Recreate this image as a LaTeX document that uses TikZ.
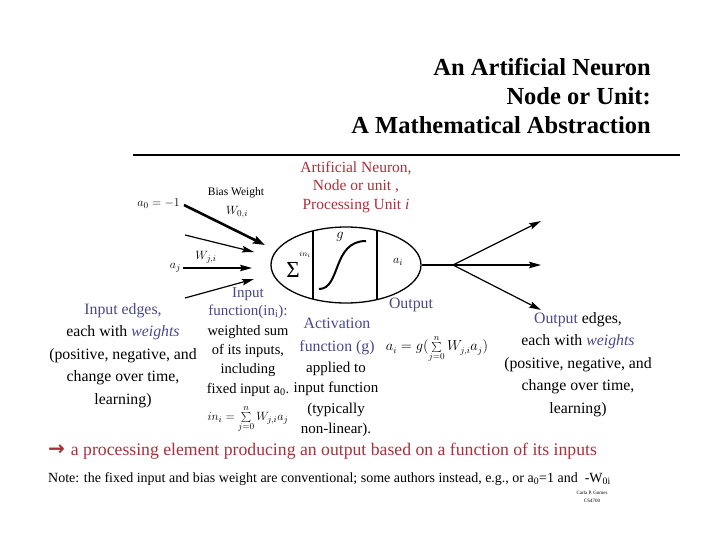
\documentclass[tikz,border=0pt]{standalone}
\usepackage{fontspec}
\setmainfont{Liberation Serif}
\newfontfamily\dejavu{DejaVu Sans}
\usetikzlibrary{shapes.geometric,arrows.meta}
\definecolor{myred}{RGB}{168,48,58}
\definecolor{myblue}{RGB}{72,72,138}
\tikzset{
  txt/.style={inner sep=0pt, align=center, font=\fontsize{15.8}{22.5}\selectfont},
  ttl/.style={inner sep=0pt, anchor=east, font=\fontsize{24.5}{29}\selectfont\bfseries},
  thinarr/.style={line width=1.2pt, -{Stealth[length=12pt,width=6.5pt,inset=2pt]}},
  thickarr/.style={line width=2.6pt, -{Stealth[length=12pt,width=8pt,inset=2pt]}},
}
\begin{document}
\begin{tikzpicture}[x=1pt,y=-1pt]
\useasboundingbox (0,0) rectangle (720,540);
% title
\node[ttl] (t1) at (651,67) {An Artificial Neuron};
\node[ttl] (t2) at (651,96) {Node or Unit:};
\node[ttl] (t3) at (651,125) {A Mathematical Abstraction};
\draw[line width=2.6pt] (133,155) -- (680,155);
% red caption
\node[txt, text=myred, font=\fontsize{15.5}{18.5}\selectfont] (cap) at (356,187) {Artificial Neuron,\\Node or unit ,\\Processing Unit \textit{i}};
% neuron
\node[ellipse, draw, line width=1.3pt, minimum width=150pt, minimum height=76pt, inner sep=0pt] (neuron) at (346,265) {};
\draw[line width=1.3pt] (313,231) -- (313,299);
\draw[line width=1.3pt] (377,230.5) -- (377,299.5);
\draw[line width=2pt] (319,289) .. controls (341,289) and (332,241) .. (366,241);
\node[inner sep=0pt, font=\fontsize{23}{23}\selectfont] (sig) at (293,270) {Σ};
\node[inner sep=0pt, font=\fontsize{8.5}{8.5}\selectfont] (ini) at (305,254) {$in_i$};
\node[inner sep=0pt, font=\fontsize{15}{15}\selectfont] (g) at (340,237) {$g$};
\node[inner sep=0pt, font=\fontsize{13}{13}\selectfont] (ai) at (398,262) {$a_i$};
% outputs
\coordinate (br) at (453,265);
\coordinate (o1) at (541,221);
\coordinate (o2) at (541,265);
\coordinate (o3) at (541,310);
\draw[line width=2.6pt] (neuron.east) -- (br);
\draw[thinarr] (br) -- (o1);
\draw[thinarr] (br) -- (o2);
\draw[thinarr] (br) -- (o3);
% inputs
\coordinate (s0) at (184,205); \coordinate (e0) at (265,245);
\coordinate (s1) at (185,235); \coordinate (e1) at (254,252);
\coordinate (s2) at (183,268); \coordinate (e2) at (252,268);
\coordinate (s3) at (185,298); \coordinate (e3) at (254,279);
\draw[thickarr] (s0) -- (e0);
\draw[thinarr] (s1) -- (e1);
\draw[thinarr] (s2) -- (e2);
\draw[thinarr] (s3) -- (e3);
\node[inner sep=0pt, anchor=east, font=\fontsize{13}{13}\selectfont] (a0) at (180,204) {$a_0 = -1$};
\node[inner sep=0pt, font=\fontsize{11.5}{11.5}\selectfont] (bw) at (236,193) {Bias Weight};
\node[inner sep=0pt, font=\fontsize{13}{13}\selectfont] (w0) at (237,212) {$W_{0,i}$};
\node[inner sep=0pt, font=\fontsize{13}{13}\selectfont] (wj) at (206,257) {$W_{j,i}$};
\node[inner sep=0pt, anchor=east, font=\fontsize{13}{13}\selectfont] (aj) at (181,268) {$a_j$};
% left text
\node[txt, anchor=north] (inedges) at (123,303) {\textcolor{myblue}{Input edges,}\\each with \textcolor{myblue}{\textit{weights}}\\(positive, negative, and\\change over time,\\learning)};
% input function
\node[txt, anchor=north, text=myblue, font=\fontsize{15}{18}\selectfont] (infn) at (248,287) {Input\\function(in\textsubscript{i}):};
\node[txt, anchor=north, font=\fontsize{14.5}{19}\selectfont] (ws) at (248,325) {weighted sum\\of its inputs,\\including\\[1pt]fixed input a\textsubscript{0}.};
\node[inner sep=0pt, font=\fontsize{12.5}{12.5}\selectfont] (inf) at (248,419) {$in_i = \sum\limits_{j=0}^{n} W_{j,i}a_j$};
% activation
\node[txt, anchor=north, text=myblue] (act) at (337,318) {Activation\\function (g)};
\node[txt, anchor=north, font=\fontsize{15}{20.3}\selectfont] (app) at (336,362) {applied to\\input function\\(typically\\non-linear).};
\node[txt, text=myblue] (outl) at (411,305) {Output};
\node[inner sep=0pt, font=\fontsize{13.5}{13.5}\selectfont] (outf) at (437,349) {$a_i = g(\sum\limits_{j=0}^{n} W_{j,i}a_j)$};
% output edges
\node[txt, anchor=north] (outedges) at (578,312) {\textcolor{myblue}{Output} edges,\\each with \textcolor{myblue}{\textit{weights}}\\(positive, negative, and\\change over time,\\learning)};
% bottom lines
\node[inner sep=0pt, anchor=west, text=myred, font=\fontsize{17.7}{17.7}\selectfont] (proc) at (48,451) {{\dejavu\bfseries\fontsize{20}{20}\selectfont →}\hspace{6pt}a processing element producing an output based on a function of its inputs};
\node[inner sep=0pt, anchor=west, font=\fontsize{14}{14}\selectfont] (note) at (48,479) {Note: the fixed input and bias weight are conventional; some authors instead, e.g., or a\textsubscript{0}=1 and \ -W\textsubscript{0i}};
\node[inner sep=0pt, align=center, font=\fontsize{5}{8}\selectfont] (auth) at (592,497) {Carla P. Gomes\\CS4700};
\end{tikzpicture}
\end{document}
